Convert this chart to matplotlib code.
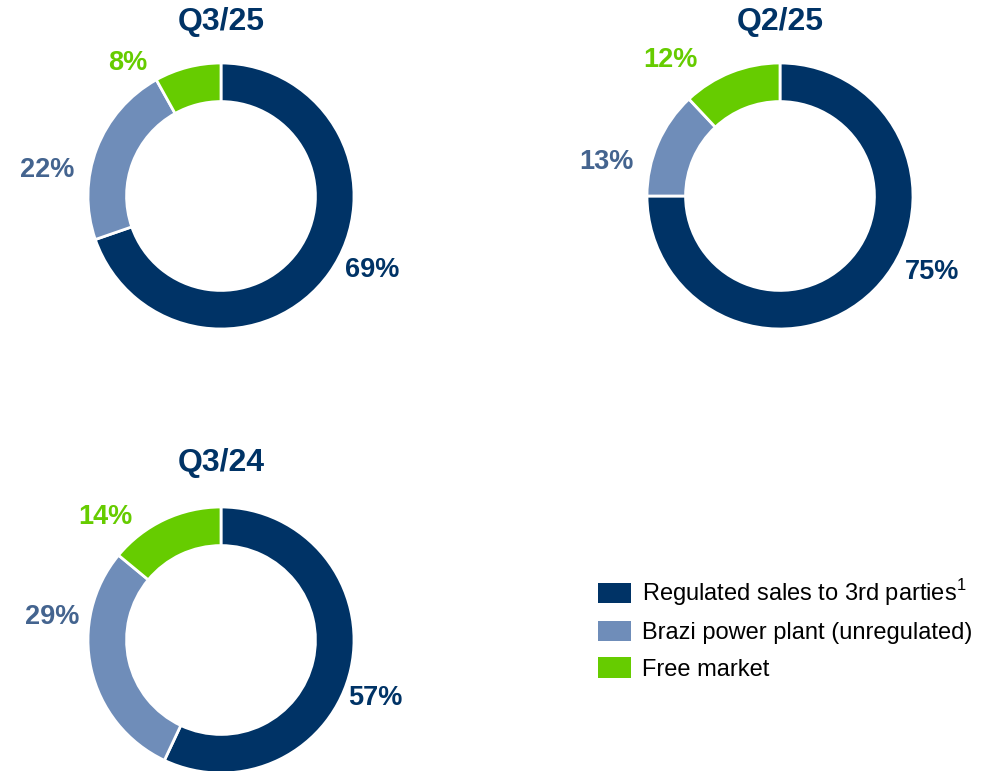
import numpy as np
import matplotlib.pyplot as plt
from matplotlib.patches import Patch

plt.rcParams['font.family'] = ['Liberation Sans', 'DejaVu Sans']
plt.rcParams['mathtext.fontset'] = 'custom'
plt.rcParams['mathtext.rm'] = 'Liberation Sans'

# data
segments = ['Regulated sales to 3rd parties$^{1}$', 'Brazi power plant (unregulated)', 'Free market']
periods = ['Q3/25', 'Q2/25', 'Q3/24']
q3_25 = [69, 22, 8]
q2_25 = [75, 13, 12]
q3_24 = [57, 29, 14]
shares = [q3_25, q2_25, q3_24]

colors = ['#003366', '#6F8DB9', '#66CC00']
label_colors = ['#003366', '#44648F', '#66CC00']
navy = '#003366'

# label placement (in units of the outer radius), hand-tuned like the slide
label_pos = [
    [(1.135, -0.556), (-1.308, 0.195), (-0.699, 1.0)],
    [(1.143, -0.571), (-1.308, 0.256), (-0.827, 1.023)],
    [(1.158, -0.436), (-1.271, 0.173), (-0.872, 0.925)],
]

W, H = 997, 771
fig = plt.figure(figsize=(W / 100, H / 100), dpi=100)

# donut centers in pixels (x, y from top), outer radius in px
centers = [(221, 196), (780, 196), (221, 640)]
title_y = [22, 22, 463]
R = 133
lim = 1.6

for k in range(3):
    cx, cy = centers[k]
    half = R * lim
    ax = fig.add_axes([(cx - half) / W, (H - cy - half) / H, 2 * half / W, 2 * half / H])
    vals = shares[k]
    wedges, _ = ax.pie(vals, colors=colors, startangle=90, counterclock=False,
                       radius=1, wedgeprops=dict(width=0.29, edgecolor='white', linewidth=2))
    for i, v in enumerate(vals):
        lx, ly = label_pos[k][i]
        ax.text(lx, ly, f'{v}%', ha='center', va='center',
                fontsize=19.5, fontweight='bold', color=label_colors[i])
    ax.set_xlim(-lim, lim)
    ax.set_ylim(-lim, lim)
    ax.set_aspect('equal')
    ax.axis('off')
    fig.text(cx / W, 1 - title_y[k] / H, periods[k], ha='center', va='center',
             fontsize=23, fontweight='bold', color=navy)

handles = [Patch(facecolor=c, edgecolor='none') for c in colors]
fig.legend(handles, segments, loc='upper left', bbox_to_anchor=(589 / W, 1 - 568 / H),
           frameon=False, fontsize=17, handlelength=1.36, handleheight=0.93,
           handletextpad=0.5, labelspacing=0.55, borderaxespad=0)

fig.savefig('out.png', dpi=100)
